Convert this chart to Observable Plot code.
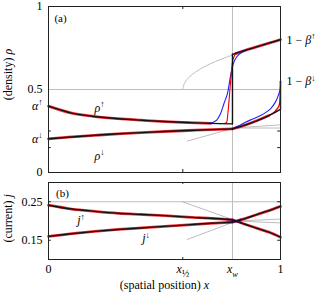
<!DOCTYPE html>
<html><head><meta charset="utf-8">
<script src="https://cdn.jsdelivr.net/npm/d3@7"></script>
<script src="https://cdn.jsdelivr.net/npm/@observablehq/plot@0.6"></script>
<style>
html,body{margin:0;padding:0;background:#fff;}
#chart svg{display:block;overflow:visible;background:#fff}
</style></head><body><div id="chart"></div>
<script>
// ---------- data ----------
const xHalf = 0.579;
const xW = 0.793;
const alphaUp = 0.40;
const alphaDown = 0.203;
const oneMinusBetaUp = 0.80;
const oneMinusBetaDown = 0.55;

// densities (black, theory)
const xLeft = [0, 0.1, 0.2, 0.3, 0.4, 0.5, 0.6, 0.7, 0.793];
const rhoUpLeft = [0.400, 0.358, 0.337, 0.324, 0.315, 0.307, 0.301, 0.296, 0.293];
const rhoDownLeft = [0.203, 0.214, 0.224, 0.233, 0.240, 0.247, 0.253, 0.258, 0.263];
const xRight = [0.793, 0.85, 0.9, 0.95, 1];
const rhoUpRight = [0.712, 0.737, 0.758, 0.779, 0.800];
const rhoDownRight = [0.263, 0.287, 0.313, 0.343, 0.380];

// red (simulation) transitions
const redUpX = [0.760, 0.767, 0.773, 0.778, 0.782, 0.786, 0.789, 0.795, 0.806];
const redUpY = [0.296, 0.300, 0.354, 0.430, 0.500, 0.560, 0.614, 0.680, 0.716];
const redDownX = [0.95, 0.964, 0.975, 0.986, 0.993, 0.997, 1.0];
const redDownY = [0.343, 0.354, 0.366, 0.384, 0.400, 0.424, 0.548];

// blue curves
const blueUpX = [0.68, 0.705, 0.725, 0.741, 0.756, 0.771, 0.779, 0.789, 0.802, 0.820, 0.842, 0.87];
const blueUpY = [0.297, 0.300, 0.315, 0.353, 0.414, 0.474, 0.534, 0.614, 0.675, 0.710, 0.730, 0.745];
const blueDownX = [0.793, 0.82, 0.849, 0.88, 0.914, 0.94, 0.957, 0.978, 0.993, 0.999, 1];
const blueDownY = [0.263, 0.281, 0.303, 0.322, 0.343, 0.365, 0.384, 0.424, 0.474, 0.504, 0.524];

// gray guide curves (panel a)
const grayCurveX = [0.579, 0.585, 0.60, 0.62, 0.65, 0.68, 0.72, 0.76, 0.797];
const grayCurveY = [0.500, 0.535, 0.565, 0.591, 0.620, 0.643, 0.669, 0.691, 0.710];
const grayLowX = [0.598, 0.793];
const grayLowY = [0.189, 0.265];
const grayRightX = [0.793, 1];
const grayRightY1 = [0.268, 0.287];
const grayRightY2 = [0.268, 0.268];

// currents (panel b)
const jUpLeft = [0.241, 0.231, 0.225, 0.220, 0.217, 0.214, 0.210, 0.207, 0.203];
const jDownLeft = [0.160, 0.167, 0.173, 0.178, 0.182, 0.186, 0.190, 0.194, 0.197];
const jUpRight = [0.203, 0.191, 0.181, 0.171, 0.158];
const jDownRight = [0.197, 0.207, 0.217, 0.227, 0.238];
const jBlueX = [0.77, 0.79, 0.81, 0.83];
const jBlueUpY = [0.205, 0.203, 0.200, 0.196];
const jBlueDownY = [0.196, 0.197, 0.200, 0.204];
const grayJX1 = [0.577, 0.81];
const grayJY1 = [0.25, 0.20];
const grayJX2 = [0.598, 0.81];
const grayJY2 = [0.152, 0.20];
const grayJRX = [0.81, 1];
const grayJRY1 = [0.20, 0.205];
const grayJRY2 = [0.20, 0.195];

// tick labels
const yTicksA = [1, 0.5, alphaUp, alphaDown, 0];
const yTickLabelsA = ["1", "0.5", "$α$^↑", "$α$^↓", "0"];
const rightTicksA = [oneMinusBetaUp, oneMinusBetaDown];
const rightTickLabelsA = ["1 − $β$^↑", "1 − $β$^↓"];
const yTicksB = [0.25, 0.15];
const yTickLabelsB = ["0.25", "0.15"];
const xTicks = [0, xHalf, xW, 1];
const xTickLabels = ["0", "$x$_½", "$x$_{$w$}", "1"];
const minorTicksA = [0.25, 0.15];

// ---------- helpers ----------
const pts = (xs, ys) => xs.map((x, i) => ({x, y: ys[i]}));
const GRAY = "#bdbdbd", RED = "#e8000b", BLUE = "#1f1fff", BLACK = "#111";
const FONT = "Liberation Serif";

function parse(s) {
  const segs = []; let it = false, i = 0;
  while (i < s.length) {
    const c = s[i];
    if (c === "$") { it = !it; i++; continue; }
    if (c === "^" || c === "_") {
      const shift = c === "^" ? "sup" : "sub"; i++;
      let grp;
      if (s[i] === "{") { const j = s.indexOf("}", i); grp = s.slice(i + 1, j); i = j + 1; }
      else { grp = s[i]; i++; }
      let it2 = it;
      for (const ch of grp) { if (ch === "$") { it2 = !it2; continue; } segs.push({t: ch, it: it2, shift}); }
      continue;
    }
    segs.push({t: c, it, shift: null}); i++;
  }
  const out = [];
  for (const g of segs) {
    const last = out[out.length - 1];
    if (last && last.it === g.it && last.shift === g.shift) last.t += g.t; else out.push({...g});
  }
  return out;
}
function richify(svg) {
  d3.select(svg).selectAll("text").each(function () {
    const s = this.textContent;
    if (!/[\$\^_]/.test(s)) return;
    const segs = parse(s);
    this.textContent = "";
    let cur = 0;
    for (const g of segs) {
      const target = g.shift === "sup" ? -4.5 : g.shift === "sub" ? 3.5 : 0;
      const ts = d3.select(this).append("tspan").text(g.t);
      if (target !== cur) ts.attr("dy", target - cur);
      cur = target;
      if (g.it) ts.attr("font-style", "italic");
      if (g.shift) ts.attr("font-size", g.t === "½" ? "80%" : "70%");
    }
  });
}

const txt = (data, o) => Plot.text(data, {fontFamily: FONT, fontSize: 12, fill: "black", ...o});
const smooth = (data, o) => Plot.line(data, {x: "x", y: "y", curve: "catmull-rom", ...o});
const halo = {stroke: RED, strokeWidth: 2.8, strokeOpacity: 0.8};
const blk = {stroke: BLACK, strokeWidth: 1.4};
const gry = {stroke: GRAY, strokeWidth: 1};

// ---------- panel (a) ----------
const upL = pts(xLeft, rhoUpLeft), upR = pts(xRight, rhoUpRight);
const dnL = pts(xLeft, rhoDownLeft), dnR = pts(xRight, rhoDownRight);

const plotA = Plot.plot({
  width: 316, height: 178,
  marginLeft: 48, marginRight: 36, marginTop: 6, marginBottom: 6,
  x: {domain: [0, 1], axis: null},
  y: {domain: [0, 1], axis: null},
  style: {fontFamily: FONT, background: "white"},
  marks: [
    Plot.ruleY([0.5], gry),
    Plot.ruleX([xW], gry),
    smooth(pts(grayCurveX, grayCurveY), gry),
    Plot.line(pts(grayLowX, grayLowY), {x: "x", y: "y", ...gry}),
    Plot.line(pts(grayRightX, grayRightY1), {x: "x", y: "y", ...gry}),
    Plot.line(pts(grayRightX, grayRightY2), {x: "x", y: "y", ...gry}),
    // red simulation halo along branches
    smooth(upL.filter(d => d.x <= 0.767), halo),
    smooth(dnL, halo),
    smooth(dnR.filter(d => d.x <= 0.95), halo),
    smooth(upR.map(d => d.x === xW ? {x: 0.806, y: 0.716} : d), halo),
    // blue
    smooth(pts(blueUpX, blueUpY), {stroke: BLUE, strokeWidth: 1.1}),
    smooth(pts(blueDownX, blueDownY), {stroke: BLUE, strokeWidth: 1.1}),
    // red transitions
    smooth(pts(redUpX, redUpY), {stroke: RED, strokeWidth: 1.1}),
    smooth(pts(redDownX, redDownY), {stroke: RED, strokeWidth: 1.3}),
    // black theory
    smooth(upL, blk),
    Plot.line([upL[upL.length - 1], upR[0]], {x: "x", y: "y", ...blk}),
    smooth(upR, blk),
    smooth(dnL, blk),
    smooth(dnR, blk),
    Plot.line([dnR[dnR.length - 1], {x: 1, y: oneMinusBetaDown}], {x: "x", y: "y", ...blk}),
    Plot.frame({stroke: "#222", strokeWidth: 1}),
    Plot.ruleY(minorTicksA, {x1: () => 0, x2: () => 0.012, stroke: "#222"}),
    Plot.ruleY(minorTicksA, {x1: () => 0.988, x2: () => 1, stroke: "#222"}),
    Plot.ruleX([xHalf], {y1: () => 1, y2: () => 0.982, stroke: "#222"}),
    Plot.ruleX([xHalf], {y1: () => 0, y2: () => 0.018, stroke: "#222"}),
    txt(yTicksA, {x: () => 0, y: d => d, text: (d, i) => yTickLabelsA[i], textAnchor: "end", dx: -6}),
    txt(rightTicksA, {x: () => 1, y: d => d, text: (d, i) => rightTickLabelsA[i], textAnchor: "start", dx: 6}),
    txt(["(density) $ρ$"], {x: () => 0, y: () => 0.59, text: d => d, rotate: -90, dx: -40}),
    txt(["(a)"], {x: () => 0.052, y: () => 0.93, text: d => d, fontSize: 11}),
    txt(["$ρ$^↑"], {x: () => 0.22, y: () => 0.39, text: d => d}),
    txt(["$ρ$^↓"], {x: () => 0.22, y: () => 0.10, text: d => d})
  ]
});
richify(plotA);

// ---------- panel (b) ----------
const juL = pts(xLeft, jUpLeft), juR = pts(xRight, jUpRight);
const jdL = pts(xLeft, jDownLeft), jdR = pts(xRight, jDownRight);

const plotB = Plot.plot({
  width: 316, height: 117,
  marginLeft: 48, marginRight: 36, marginTop: 4, marginBottom: 36,
  x: {domain: [0, 1], axis: null},
  y: {domain: [0.1, 0.3], axis: null},
  style: {fontFamily: FONT, background: "white"},
  marks: [
    Plot.ruleY([0.25], gry),
    Plot.ruleX([xW], gry),
    Plot.line(pts(grayJX1, grayJY1), {x: "x", y: "y", ...gry}),
    Plot.line(pts(grayJX2, grayJY2), {x: "x", y: "y", ...gry}),
    Plot.line(pts(grayJRX, grayJRY1), {x: "x", y: "y", ...gry}),
    Plot.line(pts(grayJRX, grayJRY2), {x: "x", y: "y", ...gry}),
    smooth(juL, halo), smooth(juR, halo),
    smooth(jdL, halo), smooth(jdR, halo),
    smooth(pts(jBlueX, jBlueUpY), {stroke: BLUE, strokeWidth: 1.8, strokeOpacity: 0.8}),
    smooth(pts(jBlueX, jBlueDownY), {stroke: BLUE, strokeWidth: 1.8, strokeOpacity: 0.8}),
    smooth(juL, blk), smooth(juR, blk),
    smooth(jdL, blk), smooth(jdR, blk),
    Plot.frame({stroke: "#222", strokeWidth: 1}),
    Plot.ruleY(yTicksB, {x1: () => 0, x2: () => 0.012, stroke: "#222"}),
    Plot.ruleY(yTicksB, {x1: () => 0.988, x2: () => 1, stroke: "#222"}),
    Plot.ruleX([xHalf], {y1: () => 0.3, y2: () => 0.295, stroke: "#222"}),
    Plot.ruleX([xHalf], {y1: () => 0.1, y2: () => 0.105, stroke: "#222"}),
    txt(yTicksB, {x: () => 0, y: d => d, text: (d, i) => yTickLabelsB[i], textAnchor: "end", dx: -6}),
    txt(xTicks, {x: d => d, y: () => 0.1, text: (d, i) => xTickLabels[i], dy: 10}),
    txt(["(spatial position) $x$"], {frameAnchor: "bottom", text: d => d, dy: 29}),
    txt(["(current) $j$"], {x: () => 0, y: () => 0.207, text: d => d, rotate: -90, dx: -40}),
    txt(["(b)"], {x: () => 0.06, y: () => 0.271, text: d => d, fontSize: 11}),
    txt(["$j$^↑"], {x: () => 0.14, y: () => 0.201, text: d => d}),
    txt(["$j$^↓"], {x: () => 0.42, y: () => 0.155, text: d => d})
  ]
});
richify(plotB);

const root = document.getElementById("chart");
root.append(plotA, plotB);
</script></body></html>
